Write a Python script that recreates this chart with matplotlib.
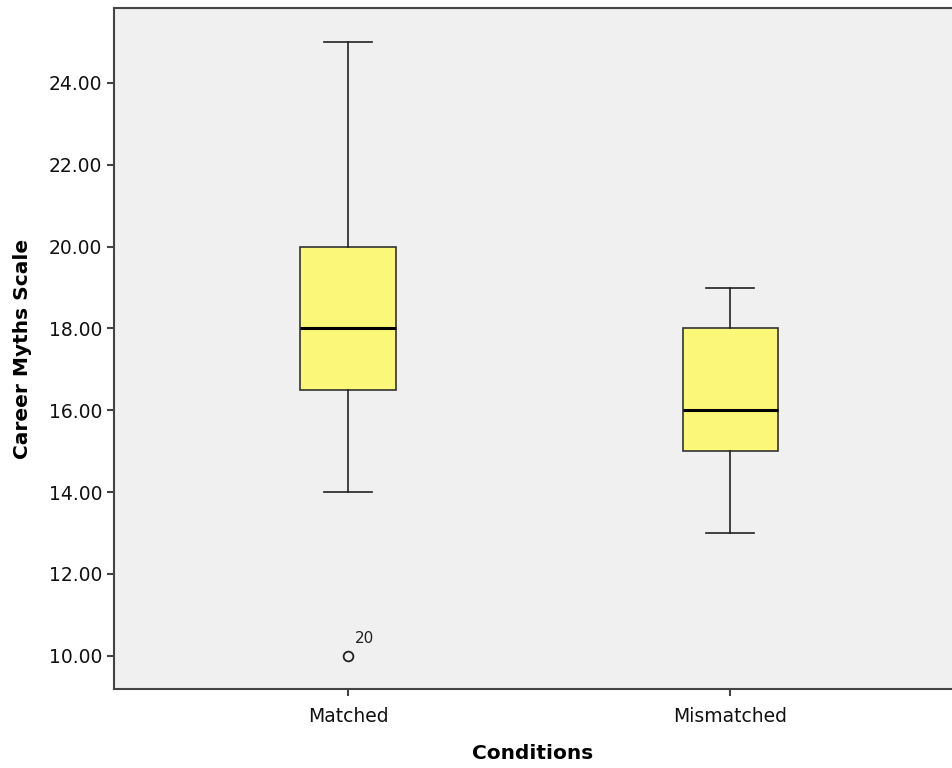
import matplotlib.pyplot as plt

conditions = ["Matched", "Mismatched"]
whisker_low = [14.0, 13.0]
q1 = [16.5, 15.0]
medians = [18.0, 16.0]
q3 = [20.0, 18.0]
whisker_high = [25.0, 19.0]
outliers = [[10.0], []]
outlier_ids = [["20"], []]

yticks = [10, 12, 14, 16, 18, 20, 22, 24]

fig = plt.figure(figsize=(9.52, 7.68), dpi=100)
ax = fig.add_axes([0.1197, 0.1029, 0.8803, 0.8867])
ax.set_facecolor("#f0f0f0")

stats = []
for i, name in enumerate(conditions):
    stats.append({
        "label": name,
        "whislo": whisker_low[i],
        "q1": q1[i],
        "med": medians[i],
        "q3": q3[i],
        "whishi": whisker_high[i],
        "fliers": outliers[i],
    })

positions = [1, 2]
ax.bxp(
    stats,
    positions=positions,
    widths=0.25,
    patch_artist=True,
    showfliers=True,
    boxprops=dict(facecolor="#fbf778", edgecolor="#333333", linewidth=1.2),
    medianprops=dict(color="black", linewidth=2.2),
    whiskerprops=dict(color="#222222", linewidth=1.2),
    capprops=dict(color="#222222", linewidth=1.2),
    capwidths=0.125,
    flierprops=dict(marker="o", markerfacecolor="none", markeredgecolor="#222222",
                    markersize=7, markeredgewidth=1.3),
)

# outlier case labels
for pos, vals, ids in zip(positions, outliers, outlier_ids):
    for v, t in zip(vals, ids):
        ax.annotate(t, (pos, v), xytext=(5, 9), textcoords="offset points",
                    fontsize=11, color="#222222")

ax.set_xlim(0.387, 2.58)
ax.set_ylim(9.19, 25.83)
ax.set_yticks(yticks)
ax.set_yticklabels([f"{t:.2f}" for t in yticks])
ax.set_xticks(positions)
ax.set_xticklabels(conditions)

for s in ["left", "bottom", "top"]:
    ax.spines[s].set_color("#444444")
    ax.spines[s].set_linewidth(1.5)
ax.spines["right"].set_visible(False)

ax.tick_params(axis="both", direction="out", length=5, width=1.5, color="#444444",
               labelsize=13.5, labelcolor="#111111")
ax.tick_params(axis="x", pad=8)

ax.set_ylabel("Career Myths Scale", fontsize=14.5, fontweight="bold", labelpad=12)
ax.set_xlabel("Conditions", fontsize=14.5, fontweight="bold", labelpad=13)

fig.savefig("out.png", dpi=100)
